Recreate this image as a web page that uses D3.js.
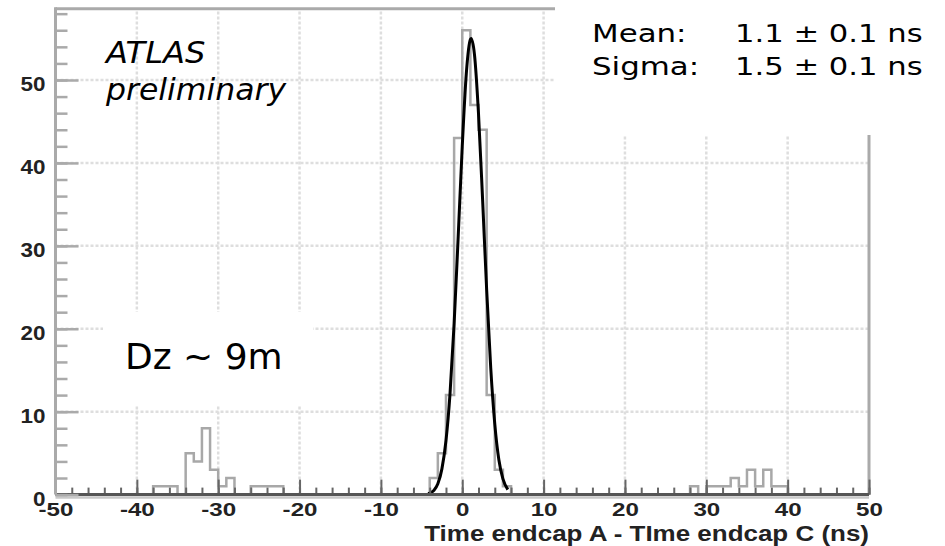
<!DOCTYPE html>
<html>
<head>
<meta charset="utf-8">
<script src="https://cdn.jsdelivr.net/npm/d3@7"></script>
<style>
body{margin:0;background:#fff}
svg{display:block}
</style>
</head>
<body>
<div id="app"></div>
<script>
// histogram: lower edge of each non-empty 1 ns bin and its count
const binStart = [-38,-37,-36,-34,-33,-32,-31,-30,-29,-26,-25,-24,-23,
	-4,-3,-2,-1,0,1,2,3,4,5,28,30,31,32,33,34,35,36,37,38,39];
const binCount = [1,1,1,5,4,8,3,1,2,1,1,1,1,
	2,5,12,43,56,47,44,12,3,1,1,1,1,1,2,1,3,1,3,1,1];

// gaussian fit curve
const fitX = [-4.2,-3.5,-3,-2.5,-2,-1.5,-1,-0.5,0,0.5,1,1.1,1.5,2,2.5,3,3.5,4,4.5,5,5.6];
const fitY = [0.1,0.5,1.3,3.1,6.5,12.2,20.6,31.1,42.0,50.8,54.9,55.0,53.1,45.9,35.6,24.7,15.3,8.5,4.2,1.9,0.6];

const xTicks = [-50,-40,-30,-20,-10,0,10,20,30,40,50];
const xTickLabels = ["-50","-40","-30","-20","-10","0","10","20","30","40","50"];
const yTicks = [0,10,20,30,40,50];
const yTickLabels = ["0","10","20","30","40","50"];
const statLabels = ["Mean:","Sigma:"];
const statValues = ["1.1 \u00b1 0.1 ns","1.5 \u00b1 0.1 ns"];
const xTitle = "Time endcap A - TIme endcap C (ns)";

const W = 945, H = 546;
const x = d3.scaleLinear().domain([-50,50]).range([55.5,869]);
const y = d3.scaleLinear().domain([0,50]).range([494.6,80]);
const yTop = 58.6;

const svg = d3.select("#app").append("svg").attr("width",W).attr("height",H);
svg.append("rect").attr("width",W).attr("height",H).attr("fill","#fff");

// stretch text horizontally (picture is wider than the fonts)
function stretch(sel, k){
	sel.each(function(){
		let w = this.getComputedTextLength();
		d3.select(this).attr("textLength", w*k).attr("lengthAdjust","spacingAndGlyphs");
	});
}

//grid
const grid = svg.append("g").attr("stroke","#dedede").attr("stroke-width",2.5).attr("stroke-dasharray","3,2");
grid.selectAll("line.v").data(xTicks.slice(1,-1)).enter().append("line")
	.attr("x1",d=>x(d)).attr("x2",d=>x(d)).attr("y1",y(0)).attr("y2",y(yTop));
grid.selectAll("line.h").data(yTicks.slice(1)).enter().append("line")
	.attr("x1",x(-50)).attr("x2",x(50)).attr("y1",d=>y(d)).attr("y2",d=>y(d));

//frame top and right
svg.append("path")
	.attr("d","M"+x(-50)+","+y(yTop)+"H"+x(50)+"V"+y(0))
	.attr("fill","none").attr("stroke","#aaa").attr("stroke-width",3);

// white panes of the text boxes
svg.append("rect").attr("x",555).attr("y",0).attr("width",W-555).attr("height",135).attr("fill","#fff");
svg.append("rect").attr("x",103).attr("y",312).attr("width",210).attr("height",93).attr("fill","#fff");

//histogram
let counts = d3.range(-50,50).map(function(lo){
	let i = binStart.indexOf(lo);
	return i<0 ? 0 : binCount[i];
});
let pts = counts.map((c,i)=>[i-50,c]);
pts.push([50,counts[counts.length-1]]);
svg.append("path").datum(pts)
	.attr("d", d3.line().x(d=>x(d[0])).y(d=>y(d[1])).curve(d3.curveStepAfter))
	.attr("fill","none").attr("stroke","#a8a8a8").attr("stroke-width",2.5);

//fit
svg.append("path").datum(fitX.map((v,i)=>[v,fitY[i]]))
	.attr("d", d3.line().x(d=>x(d[0])).y(d=>y(d[1])).curve(d3.curveMonotoneX))
	.attr("fill","none").attr("stroke","#000").attr("stroke-width",3);

//axes
const labFont = "'Liberation Sans', Arial, sans-serif";

svg.append("line").attr("x1",x(-50)).attr("x2",x(50)).attr("y1",y(0)+3).attr("y2",y(0)+3)
	.attr("stroke","#c8c8c8").attr("stroke-width",2.5);

let gxMinor = svg.append("g").attr("transform","translate(0,"+y(0)+")")
	.call(d3.axisBottom(x).tickValues(d3.range(-50,51,2)).tickSize(-7).tickFormat(""));
let gx = svg.append("g").attr("transform","translate(0,"+y(0)+")")
	.call(d3.axisBottom(x).tickValues(xTicks).tickSize(-15).tickFormat((d,i)=>xTickLabels[i]));
[gxMinor,gx].forEach(function(g){
	g.select(".domain").remove();
	g.selectAll(".tick line").attr("stroke","#666").attr("stroke-width",2);
});
gx.selectAll(".tick text").attr("y",21.5).attr("dy",null)
	.attr("font-family",labFont).attr("font-weight","bold").attr("font-size",19).attr("fill","#222")
	.call(stretch,1.27);
svg.append("line").attr("x1",x(-50)).attr("x2",x(50)).attr("y1",y(0)).attr("y2",y(0))
	.attr("stroke","#555").attr("stroke-width",3);

let gyMinor = svg.append("g").attr("transform","translate("+x(-50)+",0)")
	.call(d3.axisLeft(y).tickValues(d3.range(0,59,2)).tickSize(-12).tickFormat(""));
let gy = svg.append("g").attr("transform","translate("+x(-50)+",0)")
	.call(d3.axisLeft(y).tickValues(yTicks).tickSize(-23).tickPadding(10).tickFormat((d,i)=>yTickLabels[i]));
[gyMinor,gy].forEach(function(g){
	g.select(".domain").remove();
	g.selectAll(".tick line").attr("stroke","#aaa").attr("stroke-width",2.5);
});
gy.selectAll(".tick text").attr("dy",null).attr("y",10.5)
	.attr("font-family",labFont).attr("font-weight","bold").attr("font-size",20).attr("fill","#222")
	.call(stretch,1.12);
svg.append("line").attr("x1",x(-50)).attr("x2",x(-50)).attr("y1",y(yTop)-1.5).attr("y2",y(0))
	.attr("stroke","#aaa").attr("stroke-width",3);

svg.append("text").attr("x",x(50)).attr("y",541).attr("text-anchor","end")
	.attr("font-family",labFont).attr("font-weight","bold").attr("font-size",22).attr("fill","#222")
	.text(xTitle).call(stretch,1.18);

//texts
const txt = "'DejaVu Sans', Verdana, sans-serif";
svg.append("text").attr("x",106).attr("y",63).attr("font-family",txt).attr("font-style","italic")
	.attr("font-size",30).text("ATLAS").call(stretch,1.07);
svg.append("text").attr("x",106).attr("y",100).attr("font-family",txt).attr("font-style","italic")
	.attr("font-size",30).text("preliminary").call(stretch,1.05);

statLabels.forEach(function(s,i){
	svg.append("text").attr("x",592).attr("y",42+i*32.5).attr("font-family",txt)
		.attr("font-size",24.5).text(s).call(stretch,1.26);
	svg.append("text").attr("x",735).attr("y",42+i*32.5).attr("font-family",txt)
		.attr("font-size",24.5).text(statValues[i]).call(stretch,1.25);
});

svg.append("text").attr("x",125).attr("y",369).attr("font-family",txt)
	.attr("font-size",36).text("Dz ~ 9m");
</script>
</body>
</html>
